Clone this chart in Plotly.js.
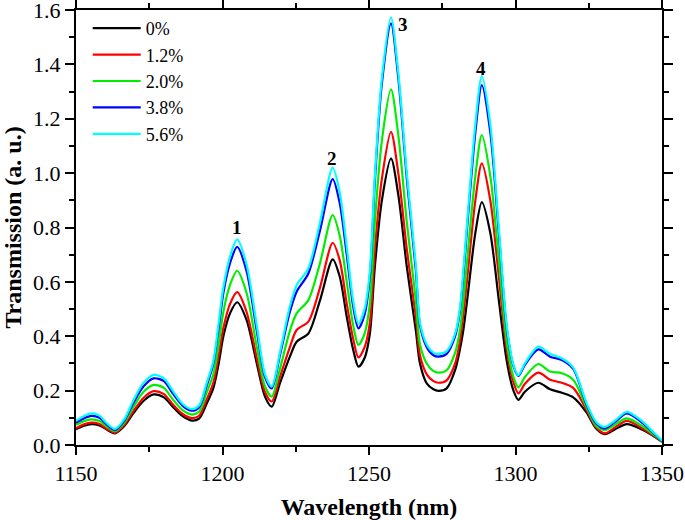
<!DOCTYPE html>
<html>
<head>
<meta charset="utf-8">
<script src="https://cdn.plot.ly/plotly-3.0.1.min.js"></script>
<style>html,body{margin:0;padding:0;background:#fff;}#chart{width:685px;height:520px;}</style>
</head>
<body>
<div id="chart"></div>
<script>
const wavelength = [1150,1152.5,1155.3,1158,1160.5,1163.3,1166.5,1169.6,1173,1176.5,1180,1183,1186.5,1189.5,1192,1194.5,1196.9,1198.7,1200.3,1202.6,1205,1208.2,1211.7,1214.5,1216.8,1219.6,1223,1225.3,1229.3,1233.3,1237.6,1240,1242.4,1244.6,1246.4,1248.5,1250.3,1252,1254.4,1257.5,1260,1262.9,1266,1267.4,1269.7,1272,1273.7,1276.5,1279.4,1281,1282.2,1283.5,1286.3,1288.5,1291.4,1294.3,1297,1299.3,1301,1303.2,1307.8,1311.8,1315.8,1319.7,1324.2,1327.5,1330.5,1334,1338,1343.5,1347.5,1350];

const s0 = [.058,.07,.077,.072,.057,.043,.07,.117,.162,.186,.175,.141,.105,.090,.097,.15,.21,.30,.40,.485,.525,.46,.30,.178,.141,.227,.325,.38,.41,.533,.683,.62,.472,.35,.288,.32,.41,.656,.90,1.054,.92,.656,.42,.30,.227,.205,.199,.208,.276,.35,.423,.533,.78,.893,.78,.533,.31,.20,.166,.196,.229,.205,.192,.175,.12,.061,.040,.058,.077,.055,.03,.012];
const s12 = [.062,.075,.082,.077,.06,.045,.074,.125,.173,.198,.187,.15,.113,.099,.107,.165,.23,.33,.43,.52,.562,.49,.32,.195,.160,.25,.36,.423,.454,.58,.744,.68,.52,.39,.322,.36,.45,.72,.98,1.152,1.0,.72,.47,.33,.26,.235,.229,.238,.30,.38,.48,.61,.90,1.036,.90,.62,.35,.23,.19,.225,.266,.24,.229,.21,.13,.065,.043,.065,.089,.06,.032,.013];
const s20 = [.074,.087,.094,.088,.068,.051,.082,.14,.195,.221,.21,.168,.127,.112,.122,.19,.26,.37,.49,.59,.641,.56,.36,.215,.178,.28,.42,.484,.533,.67,.846,.77,.60,.44,.368,.41,.52,.82,1.12,1.308,1.14,.82,.53,.37,.30,.272,.266,.275,.34,.42,.53,.68,.99,1.14,.99,.68,.38,.25,.212,.25,.298,.27,.264,.24,.14,.07,.055,.075,.098,.068,.035,.014];
const s38 = [.082,.097,.107,.10,.075,.055,.09,.155,.215,.245,.235,.19,.143,.126,.138,.215,.30,.43,.56,.67,.729,.64,.42,.25,.208,.33,.49,.564,.631,.79,.978,.89,.70,.51,.429,.48,.62,.97,1.33,1.551,1.35,.98,.64,.44,.36,.33,.325,.335,.40,.49,.62,.80,1.15,1.324,1.15,.78,.43,.29,.254,.295,.352,.325,.313,.28,.15,.08,.061,.085,.116,.08,.04,.015];
const s56 = [.089,.105,.116,.108,.08,.059,.095,.165,.228,.258,.245,.20,.15,.132,.145,.225,.31,.45,.58,.695,.756,.665,.44,.26,.215,.34,.51,.588,.65,.82,1.02,.93,.73,.53,.445,.50,.64,.99,1.35,1.573,1.37,1.0,.66,.45,.37,.34,.335,.345,.41,.50,.64,.82,1.18,1.357,1.18,.80,.44,.295,.257,.30,.362,.335,.319,.285,.155,.085,.067,.09,.122,.085,.042,.016];

const seriesNames = ['0%','1.2%','2.0%','3.8%','5.6%'];
const seriesColors = ['#000000','#ff0000','#00ee00','#0000ff','#00ffff'];
const seriesValues = [s0,s12,s20,s38,s56];

const peakLabels = ['1','2','3','4'];
const peakX = [1204.8,1237.5,1261.5,1288.2];
const peakY = [0.80,1.055,1.545,1.385];

const FONT = '"Liberation Serif", "Times New Roman", Times, serif';

const traces = seriesValues.map((v,i)=>({
  x: wavelength, y: v, type:'scatter', mode:'lines', name: seriesNames[i],
  line:{color: seriesColors[i], width:2.2, shape:'spline', smoothing:0.8}
}));

const YR = [0, 1.6000001];
const layout = {
  width:685, height:520,
  margin:{l:76, r:23, t:10, b:75},
  paper_bgcolor:'#fff', plot_bgcolor:'#fff',
  font:{family:FONT, color:'#000', size:22},
  showlegend:true,
  legend:{x:0.02, y:1.0, xanchor:'left', yanchor:'top', bgcolor:'rgba(0,0,0,0)', borderwidth:0,
          font:{family:FONT, size:18, color:'#000'}, itemwidth:48, tracegroupgap:0},
  xaxis:{range:[1150,1350], tick0:1150, dtick:50,
         ticks:'outside', ticklen:8, tickwidth:2, tickcolor:'#000',
         minor:{dtick:25, ticks:'outside', ticklen:5, tickwidth:2, tickcolor:'#000'},
         showline:true, mirror:'ticks', linewidth:2, linecolor:'#000', showgrid:false, zeroline:false,
         ticklabeloverflow:'allow',
         tickfont:{family:FONT, size:22, color:'#000'},
         title:{text:'Wavelength (nm)', font:{family:FONT, size:24, weight:'bold', color:'#000'}, standoff:18}},
  yaxis:{range:YR, tick0:0, dtick:0.2, tickformat:'.1f',
         ticks:'outside', ticklen:9, tickwidth:2, tickcolor:'#000',
         minor:{dtick:0.1, ticks:'outside', ticklen:5, tickwidth:2, tickcolor:'#000'},
         showline:true, mirror:'ticks', linewidth:2, linecolor:'#000', showgrid:false, zeroline:false,
         ticklabeloverflow:'allow',
         tickfont:{family:FONT, size:22, color:'#000'},
         title:{text:'Transmission (a. u.)', font:{family:FONT, size:24, weight:'bold', color:'#000'}, standoff:10}},
  annotations: peakLabels.map((t,i)=>({x:peakX[i], y:peakY[i], xref:'x', yref:'y', text:t, showarrow:false,
     font:{family:FONT, size:19, weight:'bold', color:'#000'}}))
};

Plotly.newPlot('chart', traces, layout, {displayModeBar:false, staticPlot:true});
</script>
</body>
</html>
